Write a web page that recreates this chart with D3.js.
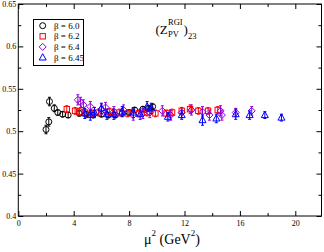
<!DOCTYPE html>
<html>
<head>
<meta charset="utf-8">
<script src="https://cdn.jsdelivr.net/npm/d3@7"></script>
<style>
  body { margin: 0; background: #fff; }
  svg { display: block; font-family: "Liberation Serif", "DejaVu Serif", serif; }
</style>
</head>
<body>
<div id="chart"></div>
<script>
// beta = 6.0
const b60x = [2.0, 2.2, 2.25, 2.6, 2.85, 3.2, 3.6, 4.4, 4.9, 5.4, 6.0, 6.5, 7.0, 7.5, 8.0, 8.4, 9.0, 9.4, 9.7];
const b60y = [0.502, 0.511, 0.535, 0.527, 0.522, 0.520, 0.519, 0.521, 0.520, 0.519, 0.520, 0.519, 0.519, 0.521, 0.522, 0.525, 0.526, 0.527, 0.529];
const b60e = [0.005, 0.005, 0.005, 0.004, 0.003, 0.003, 0.003, 0.003, 0.003, 0.003, 0.003, 0.003, 0.003, 0.003, 0.003, 0.003, 0.003, 0.003, 0.003];
// beta = 6.2
const b62x = [3.5, 4.1, 4.4, 4.8, 5.3, 5.8, 6.6, 7.3, 7.9, 8.7, 9.3, 9.9, 10.7, 11.1, 11.8, 12.4, 13.0, 13.7, 14.4];
const b62y = [0.526, 0.524, 0.523, 0.522, 0.521, 0.522, 0.523, 0.522, 0.521, 0.521, 0.522, 0.521, 0.521, 0.522, 0.524, 0.526, 0.524, 0.524, 0.525];
const b62e = [0.004, 0.004, 0.004, 0.004, 0.004, 0.004, 0.004, 0.004, 0.004, 0.004, 0.004, 0.004, 0.004, 0.004, 0.004, 0.005, 0.004, 0.004, 0.004];
// beta = 6.4
const b64x = [4.3, 4.5, 4.7, 5.2, 6.0, 6.3, 6.9, 7.6, 8.3, 9.0, 9.5, 10.4, 11.0, 11.8, 12.5, 13.3, 13.8, 14.6, 14.7, 15.7, 16.85];
const b64y = [0.537, 0.534, 0.531, 0.529, 0.526, 0.528, 0.523, 0.525, 0.519, 0.521, 0.522, 0.524, 0.519, 0.522, 0.525, 0.523, 0.519, 0.524, 0.519, 0.522, 0.524];
const b64e = [0.006, 0.006, 0.006, 0.006, 0.006, 0.006, 0.006, 0.006, 0.006, 0.006, 0.006, 0.006, 0.006, 0.006, 0.006, 0.006, 0.006, 0.006, 0.006, 0.005, 0.005];
// beta = 6.45
const b645x = [4.8, 5.2, 5.5, 6.0, 6.4, 6.9, 7.5, 8.3, 8.8, 9.3, 9.6, 10.8, 11.8, 13.3, 14.3, 15.7, 16.7, 17.8, 19.0];
const b645y = [0.521, 0.519, 0.522, 0.527, 0.520, 0.520, 0.523, 0.522, 0.520, 0.529, 0.527, 0.517, 0.519, 0.513, 0.515, 0.520, 0.519, 0.519, 0.516];
const b645e = [0.006, 0.006, 0.006, 0.006, 0.006, 0.006, 0.006, 0.006, 0.006, 0.006, 0.006, 0.005, 0.005, 0.006, 0.005, 0.006, 0.005, 0.004, 0.004];

const legendLabels = ["β = 6.0", "β = 6.2", "β = 6.4", "β = 6.45"];
const xTicks = [0, 4, 8, 12, 16, 20];
const yTicks = [0.4, 0.45, 0.5, 0.55, 0.6, 0.65];

const W = 324, H = 252;
const svg = d3.select("#chart").append("svg").attr("width", W).attr("height", H);

const x = d3.scaleLinear().domain([0, 22]).range([18.3, 323]);
const y = d3.scaleLinear().domain([0.4, 0.65]).range([216, 4]);

// frame
svg.append("rect")
    .attr("x", x(0)).attr("y", y(0.65))
    .attr("width", 321.5 - x(0)).attr("height", y(0.4) - y(0.65))
    .attr("fill", "none").attr("stroke", "#000").attr("stroke-width", 1);

// ticks on all sides, pointing inward
const xMinor = d3.range(2, 22, 4);
const yMinor = d3.range(0.425, 0.65, 0.05);
const axB = svg.append("g").attr("transform", "translate(0," + y(0.4) + ")");
axB.call(d3.axisBottom(x).tickValues(xTicks).tickSize(-5).tickPadding(4).tickFormat(d3.format("d")));
axB.append("g").call(d3.axisBottom(x).tickValues(xMinor).tickSize(-3).tickFormat(""));
const axT = svg.append("g").attr("transform", "translate(0," + y(0.65) + ")");
axT.call(d3.axisTop(x).tickValues(xTicks).tickSize(-5).tickFormat(""));
axT.append("g").call(d3.axisTop(x).tickValues(xMinor).tickSize(-3).tickFormat(""));
const axL = svg.append("g").attr("transform", "translate(" + x(0) + ",0)");
axL.call(d3.axisLeft(y).tickValues(yTicks).tickSize(-5).tickPadding(2).tickFormat(d => String(+d.toFixed(2))));
axL.append("g").call(d3.axisLeft(y).tickValues(yMinor).tickSize(-3).tickFormat(""));
const axR = svg.append("g").attr("transform", "translate(321.5,0)");
axR.call(d3.axisRight(y).tickValues(yTicks).tickSize(-5).tickFormat(""));
axR.append("g").call(d3.axisRight(y).tickValues(yMinor).tickSize(-3).tickFormat(""));
svg.selectAll(".domain").remove();
svg.selectAll(".tick line").attr("stroke", "#000");
svg.selectAll(".tick text").attr("font-family", "Liberation Serif").attr("font-size", 8).attr("fill", "#000");

// series
const series = [
  { xs: b60x, ys: b60y, es: b60e, color: "#000000", shape: "circle" },
  { xs: b62x, ys: b62y, es: b62e, color: "#ff0000", shape: "square" },
  { xs: b64x, ys: b64y, es: b64e, color: "#9400d3", shape: "diamond" },
  { xs: b645x, ys: b645y, es: b645e, color: "#0000ff", shape: "triangle" }
];

function marker(sel, shape, color) {
  if (shape === "circle") {
    sel.append("circle").attr("r", 3);
  } else if (shape === "square") {
    sel.append("rect").attr("x", -2.7).attr("y", -2.7).attr("width", 5.4).attr("height", 5.4);
  } else if (shape === "diamond") {
    sel.append("path").attr("d", "M0,-3.5L3.5,0L0,3.5L-3.5,0Z");
  } else {
    sel.append("path").attr("d", "M0,-3.8L3.5,2.5L-3.5,2.5Z");
  }
  sel.selectAll("circle,rect,path").attr("fill", "none").attr("stroke", color).attr("stroke-width", 1);
}

series.forEach(function(s) {
  const pts = s.xs.map((v, i) => ({ x: v, y: s.ys[i], e: s.es[i] }));
  const g = svg.append("g");
  const err = g.selectAll(".err").data(pts).enter().append("g")
      .attr("stroke", s.color).attr("stroke-width", 1);
  err.append("line")
      .attr("x1", d => x(d.x)).attr("x2", d => x(d.x))
      .attr("y1", d => y(d.y - d.e)).attr("y2", d => y(d.y + d.e));
  err.append("line")
      .attr("x1", d => x(d.x) - 1.5).attr("x2", d => x(d.x) + 1.5)
      .attr("y1", d => y(d.y - d.e)).attr("y2", d => y(d.y - d.e));
  err.append("line")
      .attr("x1", d => x(d.x) - 1.5).attr("x2", d => x(d.x) + 1.5)
      .attr("y1", d => y(d.y + d.e)).attr("y2", d => y(d.y + d.e));
  const m = g.selectAll(".pt").data(pts).enter().append("g")
      .attr("transform", d => "translate(" + x(d.x) + "," + y(d.y) + ")");
  marker(m, s.shape, s.color);
});

// legend
const lg = svg.append("g");
lg.append("rect").attr("x", 33.5).attr("y", 19.5).attr("width", 50).attr("height", 46)
    .attr("fill", "#fff").attr("stroke", "#000").attr("stroke-width", 1);
series.forEach(function(s, i) {
  const row = lg.append("g").attr("transform", "translate(42.7," + (25.7 + i * 10.6) + ")");
  marker(row, s.shape, s.color);
  lg.append("text").attr("x", 54).attr("y", 25.7 + i * 10.6 + 3)
      .attr("font-size", 9).attr("fill", "#000").text(legendLabels[i]);
});

// title (Z_PV^RGI)_23
svg.append("text").attr("x", 155.5).attr("y", 34).attr("font-size", 13).text("(Z");
svg.append("text").attr("x", 168).attr("y", 25).attr("font-size", 8.5).text("RGI");
svg.append("text").attr("x", 168).attr("y", 37).attr("font-size", 8.5).text("PV");
svg.append("text").attr("x", 183.5).attr("y", 34).attr("font-size", 13).text(")");
svg.append("text").attr("x", 188).attr("y", 38.5).attr("font-size", 8.5).text("23");

// x axis label
const xl = svg.append("text").attr("x", 172).attr("y", 244).attr("text-anchor", "middle").attr("font-size", 14);
xl.append("tspan").text("μ");
xl.append("tspan").attr("font-size", 9).attr("dy", -8).text("2");
xl.append("tspan").attr("dy", 8).text(" (GeV");
xl.append("tspan").attr("font-size", 9).attr("dy", -8).text("2");
xl.append("tspan").attr("dy", 8).text(")");
</script>
</body>
</html>
